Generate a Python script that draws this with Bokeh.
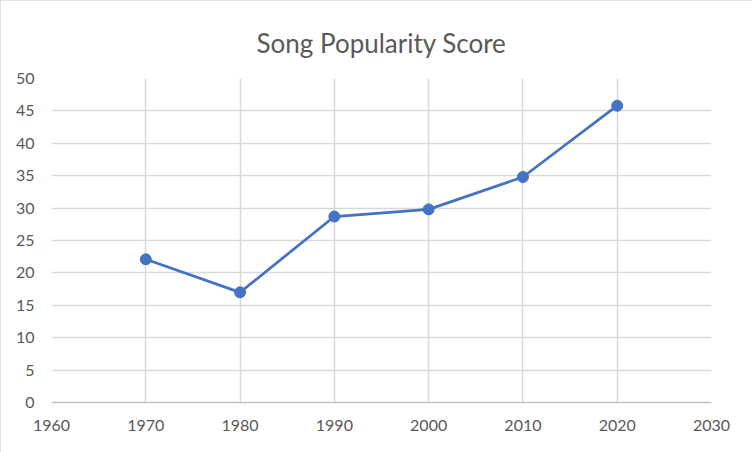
from bokeh.plotting import figure
from bokeh.models import Range1d, FixedTicker, ColumnDataSource
from bokeh.embed import file_html
from bokeh.resources import INLINE

title_text = "Song Popularity Score"
years = [1970, 1980, 1990, 2000, 2010, 2020]
scores = [22.1, 17.0, 28.7, 29.8, 34.8, 45.8]
x_ticks = [1960, 1970, 1980, 1990, 2000, 2010, 2020, 2030]
y_ticks = [0, 5, 10, 15, 20, 25, 30, 35, 40, 45, 50]

FONT = "Lato"
GREY_TXT = "#595959"
GRID = "#d9d9d9"
BLUE = "#4472C4"

p = figure(width=752, height=452, output_backend="svg", toolbar_location=None,
           x_range=Range1d(1960, 2030), y_range=Range1d(0, 50),
           min_border_left=51, min_border_right=41, min_border_top=78, min_border_bottom=50,
           title=title_text)
p.styles = {"outline": "1px solid #d9d9d9", "outline-offset": "-1px"}
p.title.align = "center"
p.title.offset = -5
p.title.text_font = FONT
p.title.text_font_size = "26px"
p.title.text_font_style = "normal"
p.title.text_color = GREY_TXT
p.title.text_line_height = 0.7
p.title.standoff = 39
p.outline_line_color = None
p.background_fill_color = "white"
p.border_fill_color = "white"

src = ColumnDataSource(dict(x=years, y=scores))
p.line("x", "y", source=src, line_color=BLUE, line_width=2.75)
p.scatter("x", "y", source=src, size=11, fill_color=BLUE, line_color=BLUE)

for ax in (p.xaxis[0], p.yaxis[0]):
    ax.major_tick_line_color = None
    ax.minor_tick_line_color = None
    ax.major_label_text_font = FONT
    ax.major_label_text_font_size = "16px"
    ax.major_label_text_color = GREY_TXT
p.xaxis[0].ticker = FixedTicker(ticks=x_ticks)
p.yaxis[0].ticker = FixedTicker(ticks=y_ticks)
p.xaxis[0].axis_line_color = "#bfbfbf"
p.xaxis[0].axis_line_width = 1.5
p.yaxis[0].axis_line_color = None
p.xaxis[0].major_label_standoff = 11
p.yaxis[0].major_label_standoff = 11

p.xgrid[0].ticker = FixedTicker(ticks=x_ticks)
p.ygrid[0].ticker = FixedTicker(ticks=y_ticks)
p.xgrid[0].grid_line_color = GRID
p.ygrid[0].grid_line_color = GRID
p.xgrid[0].grid_line_width = 1.5
p.ygrid[0].grid_line_width = 1.5

open("out.html", "w").write(file_html(p, INLINE))
